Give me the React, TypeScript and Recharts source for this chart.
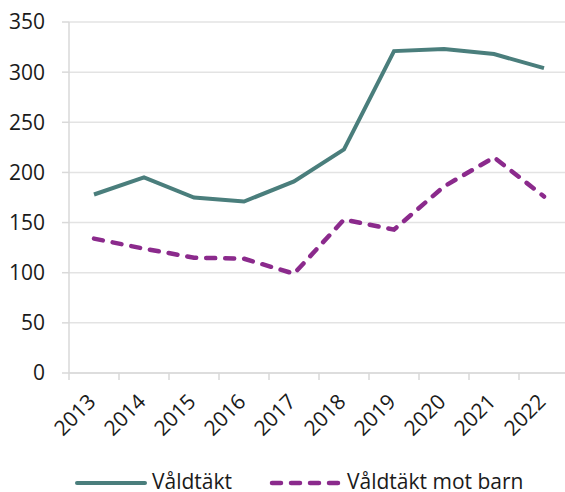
import { LineChart, Line, XAxis, YAxis, CartesianGrid } from "recharts";

const YEARS = [2013, 2014, 2015, 2016, 2017, 2018, 2019, 2020, 2021, 2022];
const RAPE = [178, 195, 175, 171, 191, 223, 321, 323, 318, 304];
const RAPE_CHILD = [134, 124, 115, 114, 99, 153, 143, 186, 215, 176];
const Y_TICKS = [0, 50, 100, 150, 200, 250, 300, 350];
const X_BOUNDS = [2012.5, 2013.5, 2014.5, 2015.5, 2016.5, 2017.5, 2018.5, 2019.5, 2020.5, 2021.5, 2022.5];

const SERIES_A = "Våldtäkt";
const SERIES_B = "Våldtäkt mot barn";

const TEAL = "#4a7e7c";
const PURPLE = "#8b2a8c";
const AXIS = "#d9d9d9";
const TEXT = "#1a1a1a";
const FONT = "'Open Sans', sans-serif";

const data = YEARS.map((year, i) => ({ year, a: RAPE[i], b: RAPE_CHILD[i] }));
const xTicks = [...X_BOUNDS, ...YEARS].sort((p, q) => p - q);

function renderYearTick(props: any) {
  const { x, y, payload } = props;
  const v = payload.value;
  // half-year ticks are the category boundaries: only a tick mark there
  if (!Number.isInteger(v)) {
    return <line key={`b${v}`} x1={x} y1={y} x2={x} y2={y + 7} stroke={AXIS} strokeWidth={1.5} />;
  }
  const tx = x + 3;
  const ty = y + 30;
  return (
    <text key={`t${v}`} x={tx} y={ty} transform={`rotate(-45, ${tx}, ${ty})`} textAnchor="end" fill={TEXT} fontSize={21} fontFamily={FONT}>
      {v}
    </text>
  );
}

function LegendRow() {
  return (
    <svg width={565} height={26} style={{ position: "absolute", left: 0, top: 466 }}>
      <line x1={77} y1={17} x2={145} y2={17} stroke={TEAL} strokeWidth={4} strokeLinecap="round" />
      <text x={152} y={23} fill={TEXT} fontSize={21} fontFamily={FONT}>{SERIES_A}</text>
      <line x1={272} y1={17} x2={340} y2={17} stroke={PURPLE} strokeWidth={4.5} strokeLinecap="round" strokeDasharray="9 10" />
      <text x={347} y={23} fill={TEXT} fontSize={21} fontFamily={FONT}>{SERIES_B}</text>
    </svg>
  );
}

export default function App() {
  return (
    <div style={{ position: "absolute", left: 0, top: 0, width: 565, height: 492, overflow: "hidden", background: "#fff" }}>
      <LineChart width={570} height={492} data={data} margin={{ top: 22, right: 1, bottom: 89, left: 0 }}>
        <CartesianGrid vertical={false} stroke="#e3e3e3" strokeWidth={1.5} />
        <XAxis
          dataKey="year"
          type="number"
          domain={[2012.5, 2022.5]}
          ticks={xTicks}
          interval={0}
          height={30}
          tickSize={0}
          tickMargin={0}
          tickLine={false}
          tick={renderYearTick}
          axisLine={{ stroke: AXIS, strokeWidth: 1.5 }}
        />
        <YAxis
          domain={[0, 350]}
          ticks={Y_TICKS}
          width={69}
          tickSize={7}
          tickMargin={17}
          tickLine={{ stroke: AXIS, strokeWidth: 1.5 }}
          axisLine={{ stroke: AXIS, strokeWidth: 1.5 }}
          tick={{ fill: TEXT, fontSize: 21, fontFamily: FONT }}
        />
        <Line type="linear" dataKey="a" name={SERIES_A} stroke={TEAL} strokeWidth={4} dot={false} isAnimationActive={false} />
        <Line
          type="linear"
          dataKey="b"
          name={SERIES_B}
          stroke={PURPLE}
          strokeWidth={4.5}
          strokeDasharray="9 10"
          strokeLinecap="round"
          dot={false}
          isAnimationActive={false}
        />
      </LineChart>
      <LegendRow />
    </div>
  );
}
